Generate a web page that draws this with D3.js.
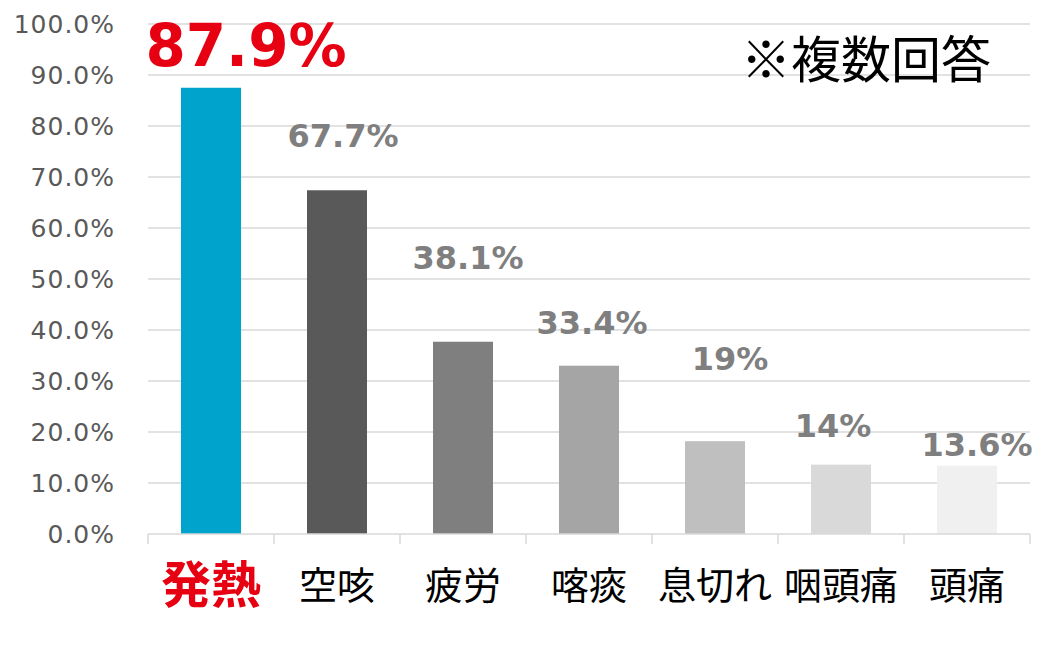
<!DOCTYPE html>
<html><head><meta charset="utf-8">
<script src="https://cdn.jsdelivr.net/npm/d3@7"></script>
<style>body{margin:0;background:#fff}</style>
</head><body><div id="chart"></div>
<script>
const categories = ["発熱", "空咳", "疲労", "喀痰", "息切れ", "咽頭痛", "頭痛"];
const values = [87.5, 67.4, 37.7, 33.0, 18.2, 13.6, 13.4];
const labels = ["87.9%", "67.7%", "38.1%", "33.4%", "19%", "14%", "13.6%"];
const labelY = [95.9, 78.2, 54.3, 41.4, 34.5, 21.2, 17.5];
const labelDx = [35, 6, 5, 3, 15, -8, 10];
const ticks = [0, 10, 20, 30, 40, 50, 60, 70, 80, 90, 100];
const colors = ["#00a3cc", "#595959", "#7f7f7f", "#a5a5a5", "#bfbfbf", "#d9d9d9", "#f0f0f0"];

const width = 1050, height = 651;
const margin = { top: 24, left: 148, bottom: 117, right: 20 };
const iwidth = width - margin.left - margin.right;
const iheight = height - margin.top - margin.bottom;

const svg = d3.select("#chart").append("svg").attr("width", width).attr("height", height);
const g = svg.append("g").attr("transform", `translate(${margin.left},${margin.top})`);

const y = d3.scaleLinear().domain([0, 100]).range([iheight, 0]);
const x = d3.scaleBand().domain(categories).range([0, iwidth]);

// grid
g.selectAll(".grid").data(ticks.filter(t => t > 0)).enter().append("line")
  .attr("x1", 0).attr("x2", iwidth).attr("y1", d => y(d)).attr("y2", d => y(d))
  .attr("stroke", "#d9d9d9").attr("stroke-width", 1.5);

// y labels
g.selectAll(".yl").data(ticks).enter().append("text")
  .attr("x", -33).attr("y", d => y(d)).attr("dy", "0.35em")
  .attr("text-anchor", "end").attr("fill", "#595959")
  .style("font", "25px 'DejaVu Sans', sans-serif").style("letter-spacing", "1px")
  .text(d => d.toFixed(1) + "%");

// bars
g.selectAll("rect").data(values).enter().append("rect")
  .attr("x", (d, i) => x(categories[i]) + x.bandwidth() / 2 - 30)
  .attr("width", 60)
  .attr("y", d => y(d)).attr("height", d => iheight - y(d))
  .attr("fill", (d, i) => colors[i]);

// x axis
const ax = g.append("g").attr("transform", `translate(0,${iheight})`);
ax.append("line").attr("x1", 0).attr("x2", iwidth).attr("stroke", "#d9d9d9").attr("stroke-width", 1.5);
ax.selectAll(".tk").data(d3.range(categories.length + 1)).enter().append("line")
  .attr("x1", i => i * x.step()).attr("x2", i => i * x.step())
  .attr("y1", 0).attr("y2", 10).attr("stroke", "#d9d9d9").attr("stroke-width", 1.5);
ax.selectAll(".xl").data(categories).enter().append("text")
  .attr("x", d => x(d) + x.bandwidth() / 2).attr("y", 51).attr("dy", "0.36em")
  .attr("text-anchor", "middle")
  .attr("fill", (d, i) => i === 0 ? "#e60012" : "#000")
  .style("font-family", "'Noto Sans CJK JP', sans-serif")
  .style("font-size", (d, i) => i === 0 ? "50px" : "38px")
  .style("font-weight", (d, i) => i === 0 ? "bold" : "normal")
  .text(d => d);

// value labels
g.selectAll(".vl").data(labels).enter().append("text")
  .attr("x", (d, i) => x(categories[i]) + x.bandwidth() / 2 + labelDx[i])
  .attr("y", (d, i) => y(labelY[i])).attr("dy", "0.36em")
  .attr("text-anchor", "middle")
  .attr("fill", (d, i) => i === 0 ? "#e60012" : "#7f7f7f")
  .style("font-family", "'DejaVu Sans', sans-serif").style("font-weight", "bold")
  .style("font-size", (d, i) => i === 0 ? "58px" : "32px")
  .text(d => d);

svg.append("text").attr("x", 866).attr("y", 60).attr("dy", "0.35em")
  .attr("text-anchor", "middle")
  .style("font", "50px 'Noto Sans CJK JP', sans-serif").text("※複数回答");
</script></body></html>
